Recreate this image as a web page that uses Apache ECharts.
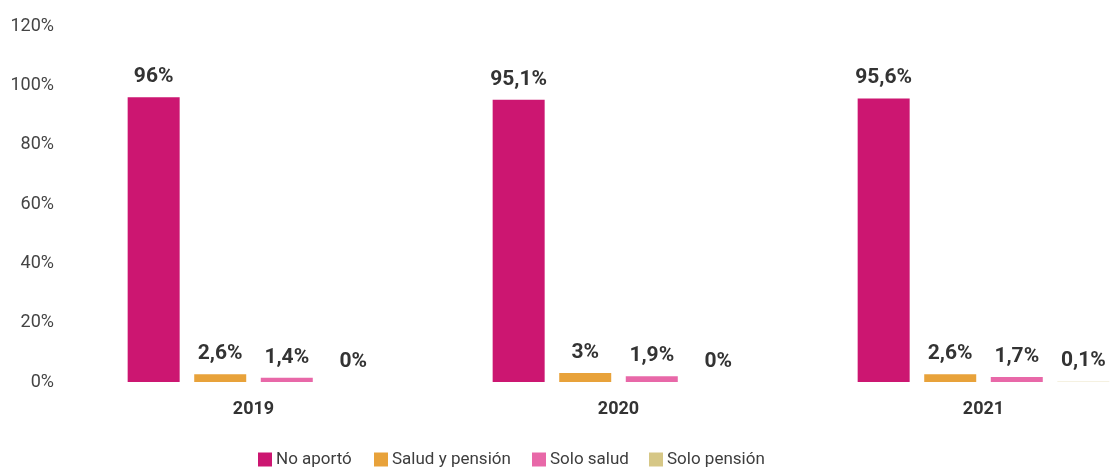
<!DOCTYPE html>
<html><head><meta charset="utf-8">
<script src="https://cdn.jsdelivr.net/npm/echarts@6/dist/echarts.min.js"></script>
<style>html,body{margin:0;padding:0;background:#fff}#c{width:1112px;height:470px}</style>
</head><body><div id="c"></div>
<script>
const categories = ['2019', '2020', '2021'];
const seriesNames = ['No aportó', 'Salud y pensión', 'Solo salud', 'Solo pensión'];
const noAporto = [96, 95.1, 95.6];
const saludPension = [2.6, 3, 2.6];
const soloSalud = [1.4, 1.9, 1.7];
const soloPension = [0, 0, 0.1];
const yTicks = [0, 20, 40, 60, 80, 100, 120];
const colors = ['#CC1671', '#E8A23A', '#E868A8', '#D6C786'];

const FONT = 'Roboto, sans-serif';
const values = [noAporto, saludPension, soloSalud, soloPension];
const legendLeft = [258, 374, 532, 649];
const chart = echarts.init(document.getElementById('c'), null, {renderer: 'canvas'});
chart.setOption({
  animation: false,
  color: colors,
  grid: {left: 71, right: -54, top: 26, bottom: 88, containLabel: false, outerBoundsMode: 'none'},
  legend: seriesNames.map((n, i) => ({
    bottom: 2, left: legendLeft[i], itemWidth: 14, itemHeight: 14, itemGap: 0,
    icon: 'rect', padding: 0,
    textStyle: {fontFamily: FONT, fontSize: 17, color: '#3d3d3d', padding: [0, 0, 0, -1]},
    data: [n]
  })),
  xAxis: {
    type: 'category', data: categories,
    axisLine: {show: false}, axisTick: {show: false},
    axisLabel: {fontFamily: FONT, fontSize: 18, fontWeight: 'bold', color: '#333', margin: 18}
  },
  yAxis: {
    type: 'value', min: yTicks[0], max: yTicks[yTicks.length - 1], interval: 20,
    axisLine: {show: false}, axisTick: {show: false}, splitLine: {show: false},
    axisLabel: {fontFamily: FONT, fontSize: 18, color: '#444', margin: 17, formatter: '{value}%'}
  },
  series: seriesNames.map((n, i) => ({
    name: n, type: 'bar', data: values[i],
    barWidth: 52, barGap: '28%', barCategoryGap: '31%',
    label: {
      show: true, position: 'top', distance: 10,
      fontFamily: FONT, fontSize: 21, fontWeight: 'bold', color: '#333',
      formatter: p => String(p.value).replace('.', ',') + '%'
    }
  }))
});
</script></body></html>
